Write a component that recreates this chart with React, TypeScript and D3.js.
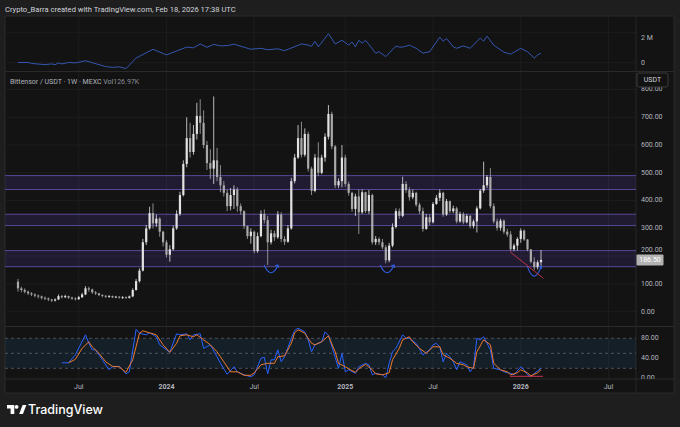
import React from 'react';
import * as d3 from 'd3';

// weekly bars, first one the week of 27 Feb 2023, last one the week of 16 Feb 2026
const firstBar = Date.UTC(2023, 1, 27);
const lastBar = Date.UTC(2026, 1, 16);
const WEEK = 7 * 86400000;
const barDate = (i: number) => new Date(firstBar + i * WEEK);

const firstOpen = 108;
const closes = [
  84, 78, 72, 66, 62, 58, 55, 50, 48, 44,
  40, 44, 56, 52, 56, 51, 47, 45, 52, 62,
  84, 80, 70, 66, 60, 57, 54, 56, 52, 54,
  51, 52, 50, 55, 78, 110, 148, 250, 300, 355,
  318, 335, 288, 250, 205, 225, 300, 352, 420, 532,
  625, 575, 640, 705, 680, 600, 535, 515, 545, 485,
  455, 428, 380, 420, 440, 380, 362, 308, 272, 288,
  218, 272, 352, 330, 250, 282, 268, 350, 262, 252,
  300, 470, 555, 625, 565, 640, 515, 435, 555, 500,
  555, 630, 712, 595, 455, 470, 555, 460, 428, 370,
  415, 358, 430, 362, 420, 250, 262, 250, 232, 185,
  238, 305, 362, 345, 460, 438, 412, 428, 385, 362,
  298, 340, 322, 388, 410, 428, 350, 398, 362, 372,
  325, 352, 322, 345, 308, 325, 372, 436, 455, 485,
  380, 325, 302, 328, 288, 278, 225, 238, 262, 292,
  260, 224, 180, 160, 178, 186.5,
];
const highs = [
  118, 90, 84, 76, 70, 66, 62, 58, 55, 51,
  46, 48, 62, 60, 61, 58, 54, 52, 57, 68,
  92, 90, 83, 74, 68, 63, 60, 60, 58, 57,
  56, 56, 55, 58, 84, 118, 156, 262, 312, 378,
  390, 350, 340, 292, 258, 240, 310, 365, 432, 545,
  700, 680, 672, 752, 765, 725, 615, 585, 775, 590,
  528, 470, 440, 445, 455, 448, 390, 365, 310, 300,
  292, 285, 365, 368, 345, 295, 292, 362, 358, 272,
  312, 482, 568, 672, 684, 660, 648, 522, 568, 610,
  565, 642, 744, 720, 600, 480, 600, 565, 468, 432,
  425, 440, 440, 432, 438, 425, 272, 268, 262, 240,
  248, 318, 372, 372, 486, 470, 448, 440, 432, 392,
  375, 352, 350, 395, 420, 440, 432, 406, 400, 382,
  378, 360, 358, 352, 348, 332, 380, 442, 540, 492,
  517, 390, 335, 335, 332, 298, 290, 245, 268, 300,
  296, 262, 226, 196, 185, 222,
];
const lows = [
  72, 70, 66, 60, 56, 52, 48, 44, 42, 38,
  35, 37, 42, 48, 49, 46, 43, 41, 43, 50,
  60, 72, 64, 60, 56, 52, 50, 50, 49, 49,
  47, 46, 46, 47, 52, 76, 105, 145, 240, 295,
  300, 305, 270, 235, 195, 180, 220, 295, 345, 415,
  520, 555, 565, 620, 640, 588, 510, 478, 460, 470,
  430, 415, 362, 365, 370, 360, 350, 298, 262, 245,
  210, 212, 268, 318, 168, 242, 255, 262, 250, 240,
  248, 295, 462, 550, 555, 558, 505, 420, 430, 488,
  495, 540, 620, 585, 445, 445, 448, 450, 418, 360,
  345, 280, 352, 355, 352, 242, 240, 240, 225, 174,
  178, 232, 300, 335, 340, 428, 400, 405, 378, 352,
  288, 295, 312, 318, 385, 398, 342, 345, 355, 355,
  318, 320, 315, 318, 300, 300, 285, 368, 428, 445,
  372, 318, 292, 292, 280, 270, 218, 218, 220, 248,
  255, 218, 174, 150, 152, 165,
];

// upper pane indicator (millions), read at the visible vertices
const topWeeks = [0, 3, 4, 8, 10, 11, 12, 13, 15, 17, 20, 22, 24, 26, 28, 30, 32, 35, 40, 44, 47, 50, 52, 54, 56, 58, 60, 62, 64, 69, 72, 74, 77, 79, 84, 86, 87, 88, 89, 92, 94, 96, 98, 99, 100, 101, 102, 103, 106, 107, 109, 112, 113, 114, 116, 118, 120, 122, 125, 126, 127, 129, 130, 132, 134, 137, 138, 139, 141, 144, 146, 149, 151, 153, 154, 155];
const topValues = [0.02, 0.02, -0.06, -0.16, -0.1, -0.16, -0.02, -0.1, 0.02, -0.02, 0.16, 0, -0.16, -0.32, -0.38, -0.34, -0.48, 0.38, 1.1, 0.64, 0.96, 1.28, 1.22, 1.54, 1.26, 1.5, 1.38, 1.4, 1.52, 1.1, 1.18, 1.06, 1.14, 0.98, 1.54, 1.44, 1.34, 1.76, 1.3, 2.38, 1.54, 1.84, 1.44, 1.7, 1.3, 1.84, 1.6, 1.84, 0.78, 0.9, 0.5, 1.36, 1.28, 1.28, 1.44, 1.18, 0.78, 0.9, 2.1, 1.76, 1.98, 1.3, 1.18, 1.38, 1.18, 2.02, 1.76, 2.18, 1.44, 0.86, 0.7, 1.18, 0.9, 0.38, 0.64, 0.78];

// stochastic RSI %K (blue) and %D (orange)
const kWeeks = [13, 15, 17, 20, 21, 22, 23, 25, 27, 28, 30, 31, 32, 33, 35, 36, 38, 39, 41, 42, 44, 45, 47, 48, 50, 51, 52, 54, 55, 57, 59, 60, 62, 64, 65, 67, 69, 70, 72, 73, 74, 75, 76, 77, 78, 79, 81, 82, 83, 85, 86, 87, 88, 90, 91, 92, 94, 95, 96, 97, 98, 100, 101, 103, 104, 105, 106, 108, 109, 110, 111, 112, 114, 115, 116, 118, 120, 122, 123, 124, 125, 126, 127, 128, 129, 130, 131, 133, 134, 135, 136, 137, 138, 140, 141, 143, 144, 146, 147, 149, 150, 151, 152, 153, 155];
const kValues = [31, 31, 47, 87, 70, 57, 57, 37, 17, 23, 24, 17, 9, 13, 98, 90, 87, 91, 83, 67, 57, 52, 89, 87, 89, 77, 87, 89, 60, 67, 43, 30, 8, 23, 13, 7, 3, 7, 40, 42, 9, 37, 37, 57, 33, 43, 80, 96, 100, 93, 77, 53, 67, 73, 93, 86, 42, 20, 50, 13, 17, 10, 23, 30, 27, 7, 10, 7, 1, 30, 53, 60, 87, 80, 80, 70, 47, 57, 67, 70, 63, 33, 50, 43, 33, 17, 33, 27, 13, 23, 80, 77, 83, 57, 20, 17, 13, 10, 7, 23, 17, 7, 3, 10, 20];
const dWeeks = [15, 17, 19, 21, 22, 24, 26, 28, 30, 32, 34, 36, 37, 39, 41, 43, 45, 47, 48, 50, 52, 53, 55, 57, 59, 61, 63, 65, 67, 69, 70, 72, 74, 76, 77, 79, 81, 82, 83, 85, 87, 88, 90, 92, 94, 95, 97, 98, 100, 101, 103, 105, 106, 108, 110, 111, 113, 114, 116, 117, 119, 121, 123, 125, 126, 128, 130, 132, 133, 135, 136, 138, 140, 141, 143, 145, 146, 148, 149, 151, 152, 154, 155];
const dValues = [31, 38, 60, 73, 63, 50, 33, 24, 23, 12, 37, 90, 95, 91, 87, 67, 52, 70, 85, 87, 83, 87, 77, 67, 53, 33, 13, 13, 6, 6, 11, 27, 30, 30, 43, 45, 70, 91, 97, 90, 70, 67, 73, 85, 53, 30, 23, 19, 12, 19, 28, 17, 9, 7, 11, 37, 60, 77, 83, 73, 60, 50, 63, 63, 47, 40, 30, 27, 23, 20, 53, 77, 67, 30, 17, 13, 7, 11, 17, 11, 5, 11, 17];

// drawings on the chart
const zoneLow = [440, 310, 162];
const zoneHigh = [490, 351, 220];
const arcWeeks = [75, 109.4, 153];
const arcTop = [168, 168, 164];
const arcBottom = [140, 140, 128];
const trendWeeks = [145.8, 155.7];
const trendPrices = [216, 120];
const stochLineWeeks = [145.8, 155.6];
const stochLineValue = 4;

const lastPrice = 186.5;
const priceTicks = [0, 100, 200, 300, 400, 500, 600, 700, 800];
const stochTicks = [80, 40, 0];
const stochLevels = [80, 50, 20];
const timeTicks = [Date.UTC(2023, 6, 3), Date.UTC(2024, 0, 1), Date.UTC(2024, 6, 1), Date.UTC(2025, 0, 6), Date.UTC(2025, 6, 7), Date.UTC(2026, 0, 5), Date.UTC(2026, 6, 6)];
const timeLabels = ['Jul', '2024', 'Jul', '2025', 'Jul', '2026', 'Jul'];

const FONT = "Roboto, 'DejaVu Sans', sans-serif";
const AXIS = '#b2b5be';

export default function App() {
  const L = 5, R = 636, RR = 674;
  const topPane = [16, 71.5];
  const mainPane = [71.5, 326.5];
  const stochPane = [326.5, 379];

  const x = d3.scaleUtc().domain([new Date(firstBar), new Date(lastBar)]).range([18, 541]);
  const xw = (w: number) => x(barDate(w));
  const yMain = d3.scaleLinear().domain([0, 800]).range([311.7, 89.5]);
  const yTop = d3.scaleLinear().domain([0, 2]).range([62.7, 38.3]);
  const yStoch = d3.scaleLinear().domain([0, 100]).range([378.3, 328.3]);

  const topLine = d3.line<number>().x((_, i) => xw(topWeeks[i])).y(v => yTop(v))(topValues) || '';
  const kLine = d3.line<number>().x((_, i) => xw(kWeeks[i])).y(v => yStoch(v))(kValues) || '';
  const dLine = d3.line<number>().x((_, i) => xw(dWeeks[i])).y(v => yStoch(v))(dValues) || '';

  const bodyW = 2.2;
  const lastTop = yMain(lastPrice) - 5.5;
  // a tick label that would sit under the last-price tag is nudged just above it
  const tickY = (p: number) => {
    const y = yMain(p);
    return Math.abs(y - yMain(lastPrice)) < 9 ? Math.min(y, lastTop - 3.9) : y;
  };

  return (
    <div style={{ position: 'fixed', left: 0, top: 0, width: 680, height: 427, background: '#1e1e1e' }}>
      <svg width={680} height={427} style={{ display: 'block', fontFamily: FONT }}>
        <defs>
          <clipPath id="cTop"><rect x={L} y={topPane[0]} width={R - L} height={topPane[1] - topPane[0]} /></clipPath>
          <clipPath id="cMain"><rect x={L} y={mainPane[0]} width={R - L} height={mainPane[1] - mainPane[0]} /></clipPath>
          <clipPath id="cStoch"><rect x={L} y={stochPane[0]} width={R - L} height={stochPane[1] - stochPane[0]} /></clipPath>
          <clipPath id="cStochAxis"><rect x={R} y={stochPane[0]} width={RR - R} height={stochPane[1] - stochPane[0]} /></clipPath>
          <clipPath id="cPriceAxis"><rect x={R} y={87} width={RR - R} height={mainPane[1] - 87} /></clipPath>
        </defs>

        <text x={5} y={11.5} fontSize={7.6} fill="#d1d4dc">Crypto_Barra created with TradingView.com, Feb 18, 2026 17:38 UTC</text>

        {/* chart frame */}
        <rect x={L} y={16} width={RR - L} height={393 - 16} fill="#131313" stroke="#2a2a2a" strokeWidth={1} />

        {/* vertical grid */}
        {timeTicks.map((t, i) => (
          <line key={'vg' + i} x1={x(new Date(t))} x2={x(new Date(t))} y1={16} y2={379} stroke="#1d1d1d" strokeWidth={1} />
        ))}
        {/* horizontal grid main */}
        {priceTicks.map(p => (
          <line key={'hg' + p} x1={L} x2={R} y1={yMain(p)} y2={yMain(p)} stroke="#1d1d1d" strokeWidth={1} />
        ))}
        <line x1={L} x2={R} y1={32.3} y2={32.3} stroke="#1d1d1d" />
        <line x1={L} x2={R} y1={yTop(0)} y2={yTop(0)} stroke="#1d1d1d" />

        {/* pane separators */}
        <line x1={L} x2={RR} y1={topPane[1]} y2={topPane[1]} stroke="#2a2a2a" />
        <line x1={L} x2={RR} y1={mainPane[1]} y2={mainPane[1]} stroke="#2a2a2a" />
        <line x1={L} x2={RR} y1={stochPane[1]} y2={stochPane[1]} stroke="#2a2a2a" />
        <line x1={R} x2={R} y1={16} y2={393} stroke="#262626" />

        {/* upper pane */}
        <g clipPath="url(#cTop)">
          <path d={topLine} fill="none" stroke="#3356b0" strokeWidth={1} />
        </g>
        <text x={641} y={yTop(2)} fontSize={7} fill={AXIS} dominantBaseline="middle">2 M</text>
        <text x={641} y={yTop(0)} fontSize={7} fill={AXIS} dominantBaseline="middle">0</text>

        {/* main pane */}
        <g clipPath="url(#cMain)">
          {zoneLow.map((lo, i) => (
            <g key={'z' + i}>
              <rect x={L} y={yMain(zoneHigh[i])} width={R - L} height={yMain(lo) - yMain(zoneHigh[i])} fill="rgba(104,72,200,0.17)" />
              <line x1={L} x2={R} y1={yMain(zoneHigh[i])} y2={yMain(zoneHigh[i])} stroke="rgba(130,105,230,0.6)" strokeWidth={1} />
              <line x1={L} x2={R} y1={yMain(lo)} y2={yMain(lo)} stroke="rgba(130,105,230,0.6)" strokeWidth={1} />
            </g>
          ))}
          {closes.map((c, i) => {
            const o = i === 0 ? firstOpen : closes[i - 1];
            const cx = xw(i);
            const up = c >= o;
            const col = up ? '#e2e2e2' : '#a9a9a9';
            const top = yMain(Math.max(o, c));
            const bot = yMain(Math.min(o, c));
            return (
              <g key={'c' + i}>
                <line x1={cx} x2={cx} y1={yMain(highs[i])} y2={yMain(lows[i])} stroke={col} strokeWidth={0.8} />
                <rect x={cx - bodyW / 2} y={top} width={bodyW} height={Math.max(0.8, bot - top)} fill={col} />
              </g>
            );
          })}
          {arcWeeks.map((w, i) => {
            const cx = xw(w);
            const yt = yMain(arcTop[i]);
            const yb = yMain(arcBottom[i]);
            return (
              <g key={'a' + i} fill="none" stroke="#2f5fe0" strokeWidth={1.1}>
                <path d={`M${cx - 7},${yt} Q${cx},${2 * yb - yt} ${cx + 7},${yt}`} />
                <path d={`M${cx + 4.2},${yt + 0.6} L${cx + 7},${yt} L${cx + 7.4},${yt + 2.8}`} />
              </g>
            );
          })}
          <line x1={xw(trendWeeks[0])} y1={yMain(trendPrices[0])} x2={xw(trendWeeks[1])} y2={yMain(trendPrices[1])} stroke="#d0384a" strokeWidth={0.9} />
        </g>
        <text x={10} y={83.5} fontSize={7} fill={AXIS}>
          Bittensor / USDT · 1W · MEXC  <tspan fill="#9598a1">Vol</tspan><tspan fill="#8a8d96">126.97K</tspan>
        </text>
        <g clipPath="url(#cPriceAxis)">
          {priceTicks.map(p => (
            <text key={'pt' + p} x={641} y={tickY(p)} fontSize={7} fill={AXIS} dominantBaseline="middle">{p.toFixed(2)}</text>
          ))}
        </g>
        <rect x={637} y={73} width={31} height={14} rx={2} fill="#131313" stroke="#3a3a3a" />
        <text x={652.5} y={80.3} fontSize={7} fill="#d1d4dc" textAnchor="middle" dominantBaseline="middle">USDT</text>
        <rect x={636.5} y={lastTop} width={27} height={11} rx={1} fill="#b3b3b3" />
        <text x={650} y={yMain(lastPrice) + 0.3} fontSize={7} fill="#ffffff" textAnchor="middle" dominantBaseline="middle">186.50</text>

        {/* stochastic pane */}
        <g clipPath="url(#cStoch)">
          <rect x={L} y={yStoch(80)} width={R - L} height={yStoch(20) - yStoch(80)} fill="rgba(33,150,243,0.09)" />
          {stochLevels.map(v => (
            <line key={'sl' + v} x1={L} x2={R} y1={yStoch(v)} y2={yStoch(v)} stroke="#5d606b" strokeDasharray="3 3" strokeWidth={0.8} />
          ))}
          <path d={kLine} fill="none" stroke="#2962ff" strokeWidth={1} />
          <path d={dLine} fill="none" stroke="#f07a2c" strokeWidth={1} />
          <line x1={xw(stochLineWeeks[0])} x2={xw(stochLineWeeks[1])} y1={yStoch(stochLineValue)} y2={yStoch(stochLineValue)} stroke="#c9344a" strokeWidth={1} />
        </g>
        <g clipPath="url(#cStochAxis)">
          {stochTicks.map(v => (
            <text key={'st' + v} x={641} y={yStoch(v)} fontSize={7} fill={AXIS} dominantBaseline="middle">{v.toFixed(2)}</text>
          ))}
        </g>

        {/* time axis */}
        {timeTicks.map((t, i) => (
          <text key={'tl' + i} x={x(new Date(t))} y={388.5} fontSize={7} fill={AXIS} textAnchor="middle"
            fontWeight={timeLabels[i] === 'Jul' ? 400 : 700}>{timeLabels[i]}</text>
        ))}

        {/* TradingView logo */}
        <g fill="#ffffff">
          <path d="M7,405 H14.3 V414 H10.6 V408.4 H7 Z" />
          <circle cx={16.6} cy={406.9} r={1.9} />
          <path d="M19.2,414 L22.6,405 H26.4 L22.9,414 Z" />
        </g>
        <text x={28} y={414} fontSize={12.5} fontWeight={500} fill="#ffffff" fontFamily="Inter, Roboto, sans-serif">TradingView</text>
      </svg>
    </div>
  );
}
